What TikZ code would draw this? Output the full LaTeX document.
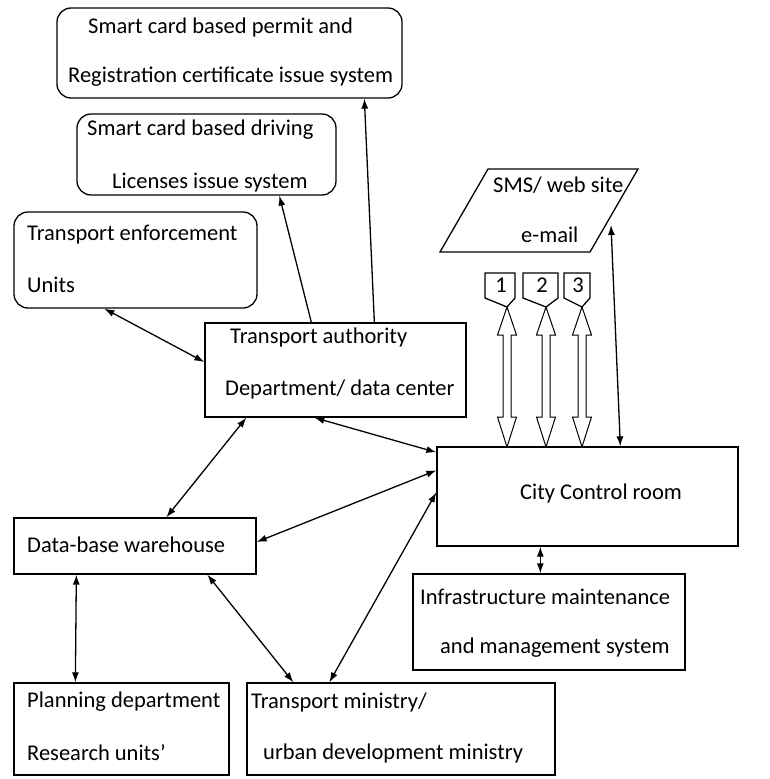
\documentclass[tikz,border=0pt]{standalone}
\usepackage{fontspec}
\setmainfont{Carlito}
\usetikzlibrary{arrows.meta,calc}
\begin{document}
\begin{tikzpicture}[x=1pt,y=-1pt,
  box/.style={draw,line width=1.3pt,inner sep=0pt,minimum width=#1},
  rbox/.style={box=#1,rounded corners=14pt},
  lbl/.style={anchor=west,inner sep=0pt,font=\fontsize{22.5}{26}\selectfont},
  num/.style={inner sep=0pt,font=\fontsize{22.5}{26}\selectfont},
  con/.style={line width=1.3pt,{Latex[length=10pt,width=7pt]}-{Latex[length=10pt,width=7pt]}},
  one/.style={line width=1.3pt,-{Latex[length=10pt,width=7pt]}},
  hol/.style={draw,line width=1pt,fill=white}]
\useasboundingbox (0,0) rectangle (769,779);
% boxes
\node[rbox=345pt,minimum height=90pt] (permit) at (229.5,53) {};
\node[rbox=259pt,minimum height=81pt] (drive) at (206.5,154.5) {};
\node[rbox=243pt,minimum height=96pt] (enf) at (135.5,260) {};
\node[box=261pt,minimum height=94pt] (ta) at (335.5,370) {};
\node[box=301pt,minimum height=99pt] (city) at (587.5,496.5) {};
\node[box=272pt,minimum height=96pt] (infra) at (549,622) {};
\node[box=242pt,minimum height=56pt] (db) at (135,546) {};
\node[box=215pt,minimum height=92pt] (plan) at (121.5,729) {};
\node[box=308pt,minimum height=92pt] (tm) at (401,729) {};
% parallelogram
\draw[line width=1.3pt] (488,169) -- (638,169) -- (590,252) -- (440,252) -- cycle;
\coordinate (smsr) at (611,225);
% texts
\node[lbl] (t1) at (88,28) {Smart card based permit and};
\node[lbl] (t2) at (68,77) {Registration certificate issue system};
\node[lbl] (t3) at (87,130) {Smart card based driving};
\node[lbl] (t4) at (112,183) {Licenses issue system};
\node[lbl] (t5) at (27,235) {Transport enforcement};
\node[lbl] (t6) at (27,285) {Units};
\node[lbl] (t7) at (230,337) {Transport authority};
\node[lbl] (t8) at (225,389) {Department/ data center};
\node[lbl] (t9) at (493,185) {SMS/ web site};
\node[lbl] (t10) at (521,235) {e-mail};
\node[lbl] (t11) at (520,493) {City Control room};
\node[lbl] (t12) at (420,597) {Infrastructure maintenance};
\node[lbl] (t13) at (440,648) {and management system};
\node[lbl] (t14) at (27,545) {Data-base warehouse};
\node[lbl] (t15) at (27,702) {Planning department};
\node[lbl] (t16) at (27,753) {Research units'};
\node[lbl] (t17) at (251,702) {Transport ministry/};
\node[lbl] (t18) at (263,753) {urban development ministry};
% hollow double arrows
\foreach \xx in {507,546,582}{
  \draw[hol] (\xx,307) -- (\xx+9.5,335) -- (\xx+4,335) -- (\xx+4,417) -- (\xx+9.5,417)
    -- (\xx,447) -- (\xx-9.5,417) -- (\xx-4,417) -- (\xx-4,335) -- (\xx-9.5,335) -- cycle;
}
% tags
\foreach \xl/\xr/\xt/\n in {485/515/507/1,523/558/546/2,564/590/582/3}{
  \draw[line width=1.3pt,fill=white] (\xl,273) -- (\xr,273) -- (\xr,298) -- (\xt,307) -- (\xl,298) -- cycle;
}
\node[num] (n1) at (501,285) {1};
\node[num] (n2) at (542,285) {2};
\node[num] (n3) at (578,285) {3};
% connectors
\draw[con] ([xshift=91pt]enf.south west) -- ([yshift=8pt]ta.west);
\draw[one] ([xshift=107pt]ta.north west) -- ([xshift=203pt]drive.south west);
\draw[one] ([xshift=170pt]ta.north west) -- ([xshift=308pt]permit.south west);
\draw[con] ([xshift=42pt]ta.south west) -- ([xshift=153pt]db.north west);
\draw[con] ([xshift=110pt]ta.south west) -- ([yshift=-6pt]city.north west);
\draw[con] ([yshift=-24pt]city.north west) -- ([yshift=4pt]db.east);
\draw[con] ([yshift=-46pt]city.north west) -- ([xshift=83pt]tm.north west);
\draw[con] ([xshift=63pt]db.south west) -- ([xshift=62pt]plan.north west);
\draw[con] ([xshift=194pt]db.south west) -- ([xshift=47pt]tm.north west);
\draw[con] ([xshift=104pt]city.south west) -- ([xshift=128pt]infra.north west);
\draw[con] ([xshift=184pt]city.north west) -- (smsr);
\end{tikzpicture}
\end{document}
